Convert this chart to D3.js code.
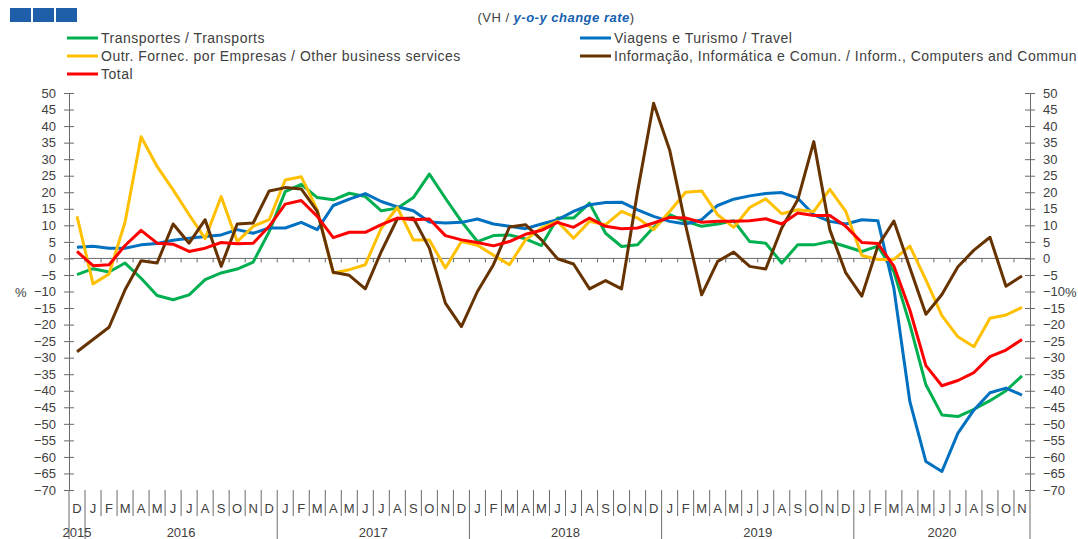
<!DOCTYPE html>
<html>
<head>
<meta charset="utf-8">
<title>VH</title>
<script src="https://d3js.org/d3.v7.min.js"></script>
<style>
  body { margin: 0; background: #fff; }
  text { font-family: "Liberation Sans", Arial, sans-serif; fill: #404040; }
</style>
</head>
<body>
<svg id="grafico"></svg>
<script>
  // meses Dez 2015 .. Nov 2020
  const meses = ["D",
    "J","F","M","A","M","J","J","A","S","O","N","D",
    "J","F","M","A","M","J","J","A","S","O","N","D",
    "J","F","M","A","M","J","J","A","S","O","N","D",
    "J","F","M","A","M","J","J","A","S","O","N","D",
    "J","F","M","A","M","J","J","A","S","O","N"];

  const anos = ["2015", "2016", "2017", "2018", "2019", "2020"];
  const anoInicio = [0, 1, 13, 25, 37, 49];
  const anoMeses = [1, 12, 12, 12, 12, 11];

  const ticksY = d3.range(-70, 51, 5);

  const transportes = [-4.9, -3.1, -4.1, -1.4, -6, -11.2, -12.5, -11, -6.4, -4.4, -3.2, -1.1,
    8.1, 20.2, 22.4, 18.4, 17.7, 19.7, 18.7, 14.4, 15.2, 18.4, 25.5, 18.2,
    11.2, 5.1, 6.9, 7.1, 5.9, 3.9, 12.2, 12.2, 16.7, 7.6, 3.6, 4.1,
    9.4, 13.2, 11.2, 9.7, 10.4, 11.4, 5.1, 4.6, -1.4, 4.1, 4.1, 5.1,
    3.6, 2.1, 3.7, -4, -20, -38.2, -47.3, -47.8, -45.6, -43, -40, -35.5];

  const viagens = [3.4, 3.7, 3.1, 3.1, 4.1, 4.5, 5.5, 6.1, 6.6, 7.1, 8.7, 7.6,
    9.2, 9.2, 10.9, 8.7, 16, 17.9, 19.6, 17.2, 15.6, 14.4, 11, 10.7,
    10.9, 11.9, 10.4, 9.7, 9, 10.4, 11.7, 14.2, 16.2, 16.9, 17, 14.7,
    12.7, 11.2, 10.4, 11.7, 16, 17.9, 18.9, 19.6, 19.9, 18.2, 13.2, 11.2,
    10.4, 11.7, 11.4, -9, -43.3, -61.4, -64.4, -52.8, -45.8, -40.6, -39.2, -41.3];

  const outrFornec = [12.7, -7.7, -4.7, 11, 36.8, 27.8, 20.7, 13.2, 6, 18.7, 5.1, 9.7,
    11.7, 23.7, 24.7, 14.7, -4.4, -3.4, -1.9, 9.2, 15.4, 5.6, 5.6, -2.9,
    5.1, 4, 1, -1.9, 5.6, 9.2, 11.2, 6.1, 11.2, 10.2, 14.2, 12.2,
    8.7, 14.2, 20, 20.4, 13.2, 9.4, 15.4, 18, 13.5, 14.7, 14.2, 20.9,
    14.2, 0.9, -0.3, -0.3, 3.7, -6.5, -17.3, -23.7, -26.7, -18.1, -17.1, -14.8];

  const informacao = [-28.2, -24.5, -20.8, -9.5, -0.7, -1.4, 10.4, 4.6, 11.7, -2.4, 10.4, 10.7,
    20.4, 21.4, 21, 14.2, -4.2, -5.1, -9.2, 2.1, 12, 12.2, 3.1, -13.5,
    -20.6, -10, -1.9, 9.5, 10.2, 5.6, -0.1, -1.7, -9.2, -6.7, -9.2, 20.2,
    46.9, 32.8, 10, -11, -0.9, 1.9, -2.4, -3.2, 9.2, 17.7, 35.3, 8.7,
    -4.4, -11.4, 3.7, 11.3, -2.8, -16.9, -10.9, -2.5, 2.5, 6.4, -8.4, -5.3];

  const total = [2.1, -2.2, -1.9, 3.9, 8.5, 4.6, 4.3, 2.1, 3.1, 4.8, 4.4, 4.6,
    9.7, 16.4, 17.5, 12.7, 6.3, 7.9, 7.9, 10.2, 12.2, 11.7, 11.9, 6.9,
    5.6, 4.8, 3.8, 5.1, 7.3, 8.5, 10.9, 9.4, 12.2, 9.7, 9, 9.2,
    10.7, 12.4, 12.2, 10.9, 11.2, 11.2, 11.4, 12, 10.4, 13.7, 13, 13,
    9.7, 4.8, 4.5, -2.3, -15.6, -32.4, -38.5, -36.9, -34.5, -29.7, -27.7, -24.5];

  const series = [
    { nome: "Transportes / Transports", valores: transportes, cor: "#00b050" },
    { nome: "Viagens e Turismo / Travel", valores: viagens, cor: "#0070c0" },
    { nome: "Outr. Fornec. por Empresas / Other business services", valores: outrFornec, cor: "#ffc000" },
    { nome: "Informação, Informática e Comun. / Inform., Computers and Commun", valores: informacao, cor: "#663300" },
    { nome: "Total", valores: total, cor: "#ff0000" }
  ];

  const svg = d3.select("#grafico")
    .attr("width", 1078)
    .attr("height", 539);

  const x = d3.scaleBand().domain(d3.range(meses.length)).range([69, 1030]);
  const y = d3.scaleLinear().domain([-70, 50]).range([490, 93]);
  const cx = i => x(i) + x.bandwidth() / 2;
  const corEixo = "#6a6a6a";

  // quadrados azuis
  svg.selectAll(".quad")
    .data([0, 1, 2])
    .enter()
    .append("rect")
    .attr("x", d => 10 + d * 23)
    .attr("y", 8)
    .attr("width", 21)
    .attr("height", 14)
    .style("fill", "#1f5ea8");

  // titulo
  const titulo = svg.append("text")
    .attr("x", 556)
    .attr("y", 22)
    .attr("text-anchor", "middle")
    .style("font-size", "13px")
    .style("letter-spacing", "0.5px");
  titulo.append("tspan").text("(VH / ");
  titulo.append("tspan").text("y-o-y change rate")
    .style("fill", "#1560b0").style("font-weight", "bold").style("font-style", "italic");
  titulo.append("tspan").text(")");

  // legenda
  const legPos = [[67, 38], [580, 38], [67, 56], [580, 56], [67, 74]];
  const leg = svg.selectAll(".leg")
    .data(series)
    .enter()
    .append("g")
    .attr("transform", (d, i) => `translate(${legPos[i][0]},${legPos[i][1]})`);
  leg.append("line")
    .attr("x1", 0).attr("x2", 31)
    .style("stroke", d => d.cor)
    .style("stroke-width", 3);
  leg.append("text")
    .attr("x", 34)
    .attr("dy", "0.35em")
    .style("font-size", "14px")
    .style("letter-spacing", "0.5px")
    .text(d => d.nome);

  // eixos
  function eixo(g, gerador, lado) {
    g.call(gerador.tickValues(ticksY).tickSize(5).tickSizeOuter(0).tickPadding(8)
      .tickFormat(d3.format("d")));
    g.select(".domain").style("stroke", corEixo);
    g.selectAll(".tick line").attr("x1", lado * 5).style("stroke", corEixo);
    g.selectAll(".tick text").style("font-size", "13px").style("fill", "#404040")
      .style("font-family", "\"Liberation Sans\", Arial, sans-serif");
  }
  eixo(svg.append("g").attr("transform", "translate(69,0)"), d3.axisLeft(y), 1);
  eixo(svg.append("g").attr("transform", "translate(1030,0)"), d3.axisRight(y), -1);

  svg.append("text").attr("x", 15).attr("y", y(-10) + 5).style("font-size", "13px").text("%");
  svg.append("text").attr("x", 1065).attr("y", y(-10) + 5).style("font-size", "13px").text("%");

  // linha do zero
  svg.append("line")
    .attr("x1", 69).attr("x2", 1030)
    .attr("y1", y(0)).attr("y2", y(0))
    .style("stroke", corEixo);
  svg.selectAll(".tz")
    .data(d3.range(1, meses.length))
    .enter()
    .append("line")
    .attr("x1", d => x(d)).attr("x2", d => x(d))
    .attr("y1", y(0)).attr("y2", y(0) + 4)
    .style("stroke", corEixo);

  // separadores de meses
  const limitesAno = anoInicio.concat([meses.length]);
  svg.selectAll(".sep")
    .data(d3.range(0, meses.length + 1))
    .enter()
    .append("line")
    .attr("x1", d => d === meses.length ? 1030 : x(d))
    .attr("x2", d => d === meses.length ? 1030 : x(d))
    .attr("y1", 490)
    .attr("y2", d => limitesAno.includes(d) ? 539 : 516)
    .style("stroke", corEixo);

  svg.selectAll(".mes")
    .data(meses)
    .enter()
    .append("text")
    .attr("x", (d, i) => cx(i))
    .attr("y", 513)
    .attr("text-anchor", "middle")
    .style("font-size", "13px")
    .text(d => d);

  svg.selectAll(".ano")
    .data(anos)
    .enter()
    .append("text")
    .attr("x", (d, i) => (cx(anoInicio[i]) + cx(anoInicio[i] + anoMeses[i] - 1)) / 2)
    .attr("y", 537)
    .attr("text-anchor", "middle")
    .style("font-size", "13px")
    .text(d => d);

  // linhas
  const linha = d3.line()
    .x((d, i) => cx(i))
    .y(d => y(d));

  svg.selectAll(".serie")
    .data(series)
    .enter()
    .append("path")
    .attr("d", d => linha(d.valores))
    .style("fill", "none")
    .style("stroke", d => d.cor)
    .style("stroke-width", 3)
    .style("stroke-linejoin", "round");
</script>
</body>
</html>
